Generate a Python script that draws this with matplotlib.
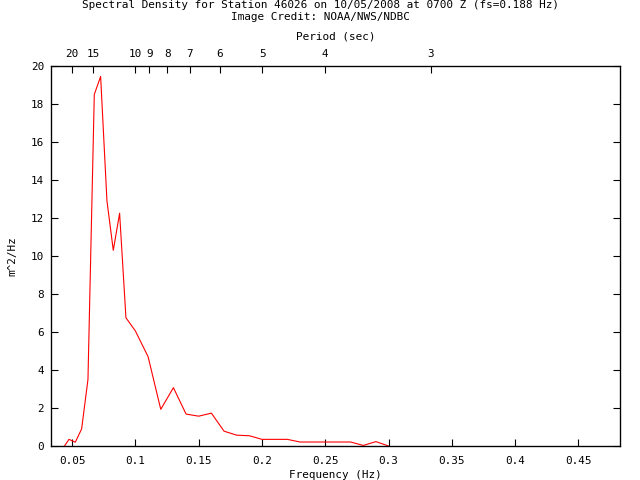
import matplotlib
matplotlib.use("Agg")
import matplotlib.pyplot as plt

freq = [0.044, 0.0475, 0.0525, 0.0575, 0.0625, 0.0675, 0.0725, 0.0775, 0.0825,
        0.0875, 0.0925, 0.10, 0.11, 0.12, 0.13, 0.14, 0.15, 0.16, 0.17, 0.18,
        0.19, 0.20, 0.21, 0.22, 0.23, 0.24, 0.25, 0.26, 0.27, 0.28, 0.29, 0.30]
density = [0.0, 0.35, 0.2, 0.9, 3.5, 18.5, 19.45, 12.9, 10.3,
           12.25, 6.75, 6.05, 4.7, 1.93, 3.07, 1.68, 1.57, 1.73, 0.78, 0.57,
           0.54, 0.35, 0.35, 0.35, 0.21, 0.21, 0.21, 0.21, 0.21, 0.03, 0.23, 0.0]

xticks = [0.05, 0.1, 0.15, 0.2, 0.25, 0.3, 0.35, 0.4, 0.45]
xticklabels = ["0.05", "0.1", "0.15", "0.2", "0.25", "0.3", "0.35", "0.4", "0.45"]
yticks = [0, 2, 4, 6, 8, 10, 12, 14, 16, 18, 20]
periods = [20, 15, 10, 9, 8, 7, 6, 5, 4, 3]

title1 = "Spectral Density for Station 46026 on 10/05/2008 at 0700 Z (fs=0.188 Hz)"
title2 = "Image Credit: NOAA/NWS/NDBC"

plt.rcParams['font.family'] = ['DejaVu Sans Mono']
fs = 7.9

fig = plt.figure(figsize=(6.4, 4.8), dpi=100)
ax = fig.add_axes([51/640, 34/480, 569/640, 380/480])
ax.plot(freq, density, color='#ff0000', lw=0.8)
ax.set_xlim(0.0333, 0.4828)
ax.set_ylim(0, 20)
ax.set_xticks(xticks)
ax.set_xticklabels(xticklabels, fontsize=fs)
ax.set_yticks(yticks)
ax.set_yticklabels([str(v) for v in yticks], fontsize=fs)
ax.tick_params(axis='x', direction='in', length=5, width=0.8, pad=7, top=False)
ax.tick_params(axis='y', direction='in', length=5, width=0.8, pad=5, right=True)
for s in ax.spines.values():
    s.set_linewidth(0.9)
ax.set_xlabel("Frequency (Hz)", fontsize=fs, labelpad=3)
ax.set_ylabel("m^2/Hz", fontsize=fs, labelpad=10)

ax2 = ax.twiny()
ax2.set_xlim(ax.get_xlim())
ax2.set_xticks([1.0/p for p in periods])
ax2.set_xticklabels([str(p) for p in periods], fontsize=fs)
ax2.tick_params(axis='x', direction='in', length=5, width=0.8, pad=5)
ax2.set_xlabel("Period (sec)", fontsize=fs, labelpad=7)

fig.text(0.5, 1 - 5/480, title1, ha='center', va='center', fontsize=fs)
fig.text(0.5, 1 - 17/480, title2, ha='center', va='center', fontsize=fs)

fig.savefig("out.png", dpi=100)
